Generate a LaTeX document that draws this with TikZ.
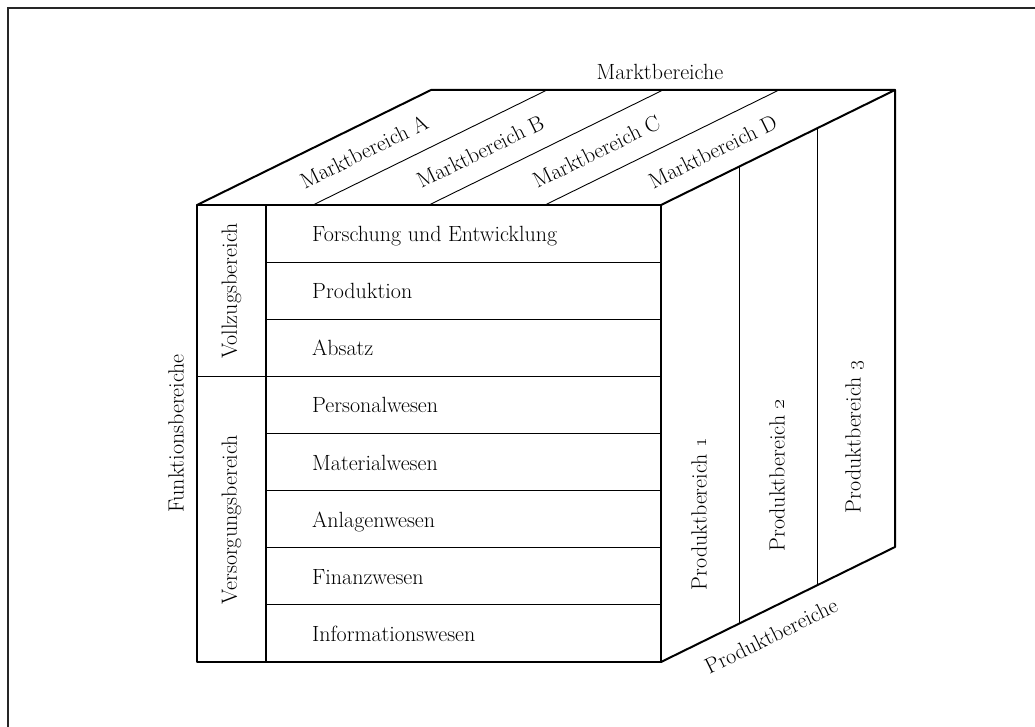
\documentclass[tikz,border=0pt]{standalone}
\usetikzlibrary{calc}
\begin{document}
\begin{tikzpicture}[x=1pt,y=-1pt,
  edge/.style={line width=2pt, line join=round, line cap=round},
  rowline/.style={line width=1.2pt},
  divline/.style={line width=0.9pt},
  lbl/.style={inner sep=0pt, font=\fontsize{22}{26}\selectfont},
  cell/.style={lbl, anchor=base west},
  slanted/.style={lbl, rotate=26.17},
  upright/.style={lbl, rotate=90}]
\useasboundingbox (0,0) rectangle (1035,727);

% page frame
\draw[line width=2pt, draw=black!85] (1035,8) -- (8,8) -- (8,727);

% cube corners; the depth vector is (234,-115)
\coordinate (ftl) at (197,205);
\coordinate (ftr) at (661,205);
\coordinate (fbr) at (661,662);
\coordinate (fbl) at (197,662);
\coordinate (btl) at ($(ftl)+(234,-115)$);
\coordinate (btr) at ($(ftr)+(234,-115)$);
\coordinate (bbr) at ($(fbr)+(234,-115)$);

% front face: rows and the column of the two groups
\foreach \i in {1,2,4,5,6,7}
  \draw[rowline] (266,205+\i*57.125) -- (661,205+\i*57.125);
\draw[rowline] (197,376.375) -- (661,376.375);
\draw[rowline] (266,205) -- (266,662);

% top face: four market strips
\foreach \k in {1,2,3}
  \draw[divline] ($(ftl)!\k/4!(ftr)$) -- ++(234,-115);

% right face: three product strips
\foreach \k in {1,2}
  \draw[divline] ($(ftr)!\k/3!(btr)$) -- ($(fbr)!\k/3!(bbr)$);

% outline of the cube
\draw[edge] (fbl) rectangle (ftr);
\draw[edge] (ftl) -- (btl) -- (btr) -- (ftr);
\draw[edge] (btr) -- (bbr) -- (fbr);

% function rows
\node[cell] (fe) at (312,241.5) {Forschung und Entwicklung};
\node[cell] (pr) at (312,298.6) {Produktion};
\node[cell] (ab) at (312,355.8) {Absatz};
\node[cell] (pe) at (312,412.9) {Personalwesen};
\node[cell] (ma) at (312,470.0) {Materialwesen};
\node[cell] (an) at (312,527.1) {Anlagenwesen};
\node[cell] (fi) at (312,584.3) {Finanzwesen};
\node[cell] (in) at (312,641.4) {Informationswesen};

% group labels
\node[upright] (vz) at (231.5,291) {Vollzugsbereich};
\node[upright] (vs) at (231.5,519.5) {Versorgungsbereich};
\node[upright] (fb) at (176,433.5) {Funktionsbereiche};

% market labels
\node[lbl] (mkt) at (660,72) {Marktbereiche};
\node[slanted] (mbA) at (364,151.5) {Marktbereich A};
\node[slanted] (mbB) at (480.25,151.5) {Marktbereich B};
\node[slanted] (mbC) at (596.5,151.5) {Marktbereich C};
\node[slanted] (mbD) at (712.75,151.5) {Marktbereich D};

% product labels
\node[upright] (p1) at (699,514) {Produktbereich \oldstylenums{1}};
\node[upright] (p2) at (777,475.5) {Produktbereich \oldstylenums{2}};
\node[upright] (p3) at (855,437) {Produktbereich \oldstylenums{3}};
\node[slanted] (pb) at (771,636) {Produktbereiche};
\end{tikzpicture}
\end{document}
